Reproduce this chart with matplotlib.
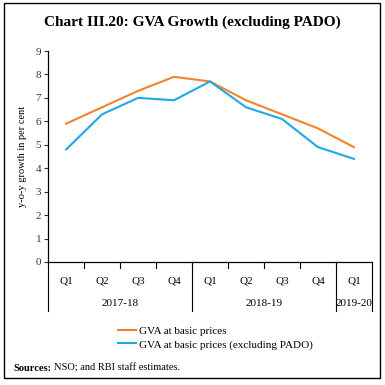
import matplotlib.pyplot as plt
import matplotlib.transforms as mtransforms
from matplotlib.patches import Rectangle

# Data
quarters = ['Q1', 'Q2', 'Q3', 'Q4', 'Q1', 'Q2', 'Q3', 'Q4', 'Q1']
years = ['2017-18', '2018-19', '2019-20']
year_len = [4, 4, 1]
gva = [5.9, 6.6, 7.3, 7.9, 7.7, 6.9, 6.3, 5.7, 4.9]
gva_ex_pado = [4.8, 6.3, 7.0, 6.9, 7.7, 6.6, 6.1, 4.9, 4.4]

plt.rcParams['font.family'] = ['Liberation Serif', 'DejaVu Serif']

fig = plt.figure(figsize=(3.85, 3.85), dpi=100)
ax = fig.add_axes([0.125, 0.3195, 0.841, 0.548])

x = list(range(len(quarters)))
l1, = ax.plot(x, gva, color='#F4822C', lw=1.5)
l2, = ax.plot(x, gva_ex_pado, color='#1EA8E4', lw=1.5)

ax.set_xlim(-0.5, len(quarters) - 0.5)
ax.set_ylim(0, 9)
ax.set_yticks(range(0, 10))
ax.tick_params(axis='y', labelsize=8, length=3, width=0.8, pad=2, colors='#333333')
ax.set_xticks([])
for s in ['top', 'right']:
    ax.spines[s].set_visible(False)
for s in ['left', 'bottom']:
    ax.spines[s].set_linewidth(0.9)
ax.set_ylabel('y-o-y growth in per cent', fontsize=7.5, labelpad=6)

# category axis: quarter ticks, year separators and labels
trans = mtransforms.blended_transform_factory(ax.transData, ax.transAxes)
for i in range(1, len(quarters)):
    ax.plot([i - 0.5, i - 0.5], [0, -0.03], transform=trans, color='black',
            lw=0.8, clip_on=False)
for i, q in enumerate(quarters):
    ax.text(i, -0.09, q, transform=trans, ha='center', va='center', fontsize=8)
start = -0.5
bounds = [start]
for n in year_len:
    start += n
    bounds.append(start)
for b in bounds:
    ax.plot([b, b], [0, -0.232], transform=trans, color='black', lw=0.8, clip_on=False)
for j, y in enumerate(years):
    ax.text((bounds[j] + bounds[j + 1]) / 2, -0.195, y, transform=trans,
            ha='center', va='center', fontsize=8)

fig.text(0.5, 0.943, 'Chart III.20: GVA Growth (excluding PADO)', ha='center',
         va='center', fontsize=11, fontweight='bold')

fig.legend([l1, l2], ['GVA at basic prices', 'GVA at basic prices (excluding PADO)'],
           loc='upper left', bbox_to_anchor=(0.295, 0.165), frameon=False,
           fontsize=8, handlelength=1.6, handletextpad=0.3, labelspacing=0.35,
           borderaxespad=0)

# source note: bold label followed by plain text
src = fig.text(0.034, 0.044, 'Sources:', fontsize=7.5, va='center', fontweight='bold')
fig.canvas.draw()
bb = src.get_window_extent().transformed(fig.transFigure.inverted())
fig.text(bb.x1 + 0.008, 0.044, 'NSO; and RBI staff estimates.', fontsize=7.5, va='center')

fig.add_artist(Rectangle((0.011, 0.018), 0.977, 0.973, transform=fig.transFigure,
                         fill=False, edgecolor='black', lw=1))

plt.savefig('out.png', dpi=100)
